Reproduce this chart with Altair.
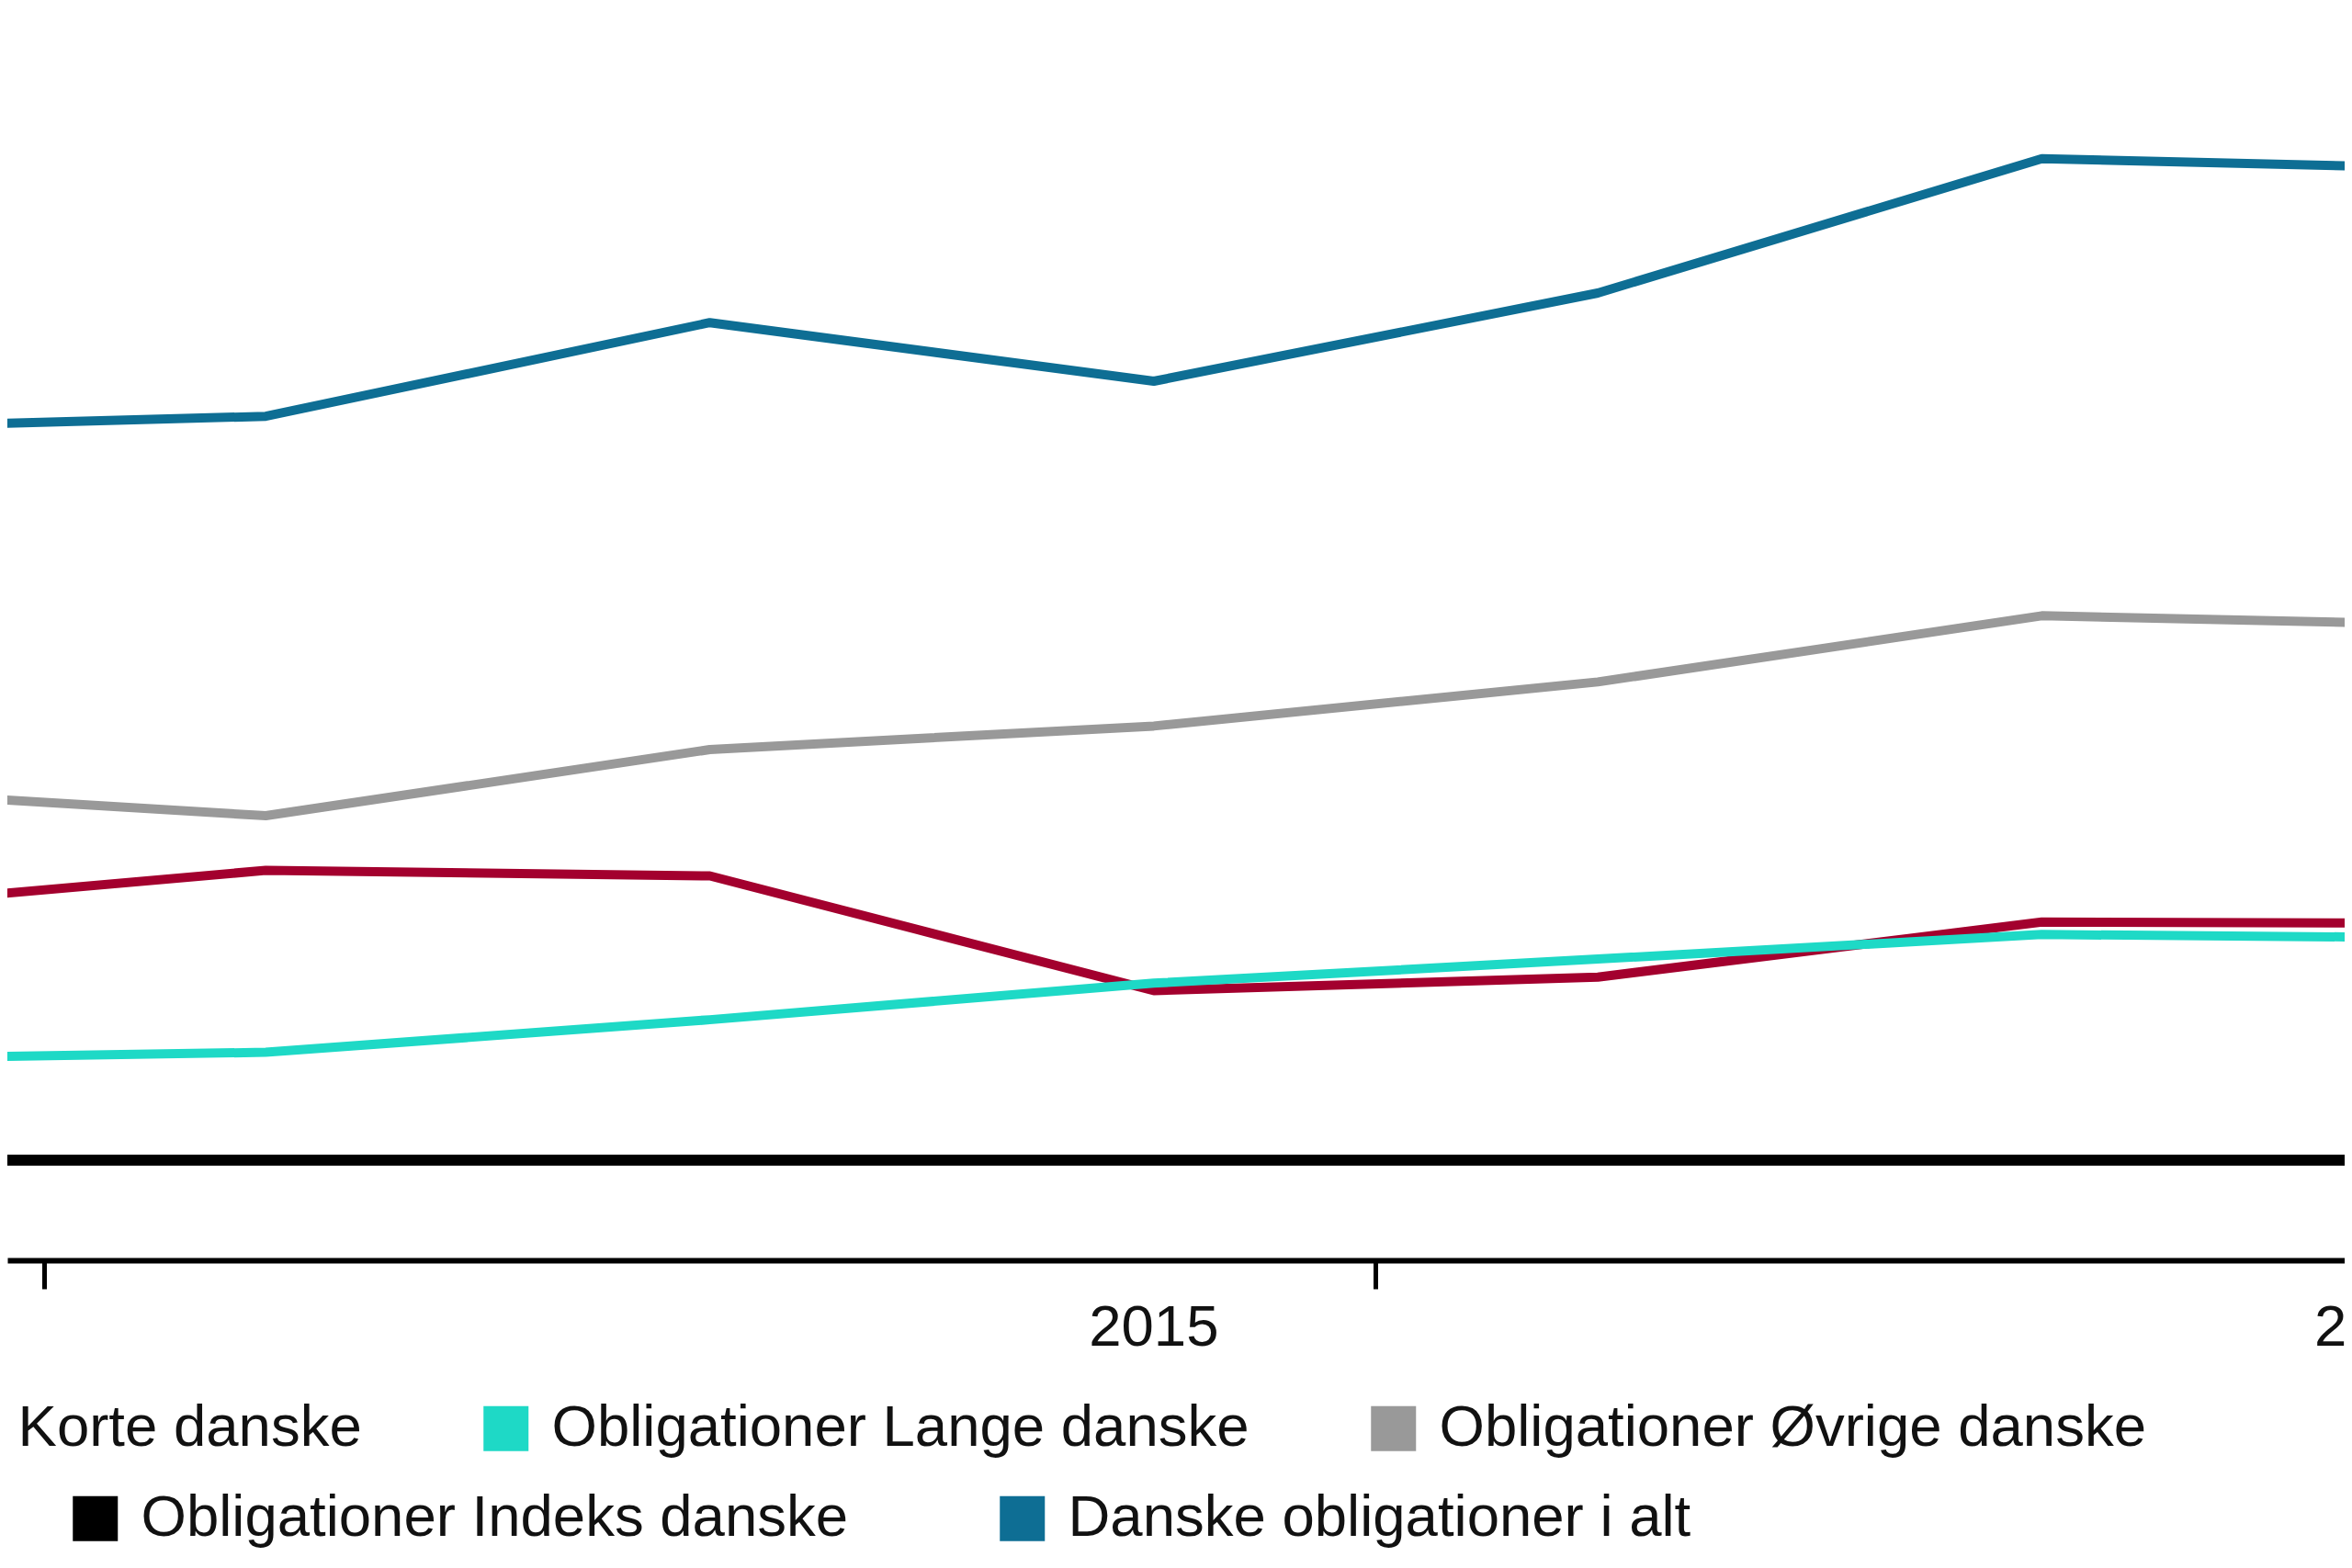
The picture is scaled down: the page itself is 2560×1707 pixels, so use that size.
import altair as alt
import pandas as pd

# x positions are period indices; 2015 sits on index 3
period = [0, 1, 2, 3, 4, 5, 6]
series = [
    "Obligationer Korte danske",
    "Obligationer Lange danske",
    "Obligationer Øvrige danske",
    "Obligationer Indeks danske",
    "Danske obligationer i alt",
]
korte = [500, 578, 567, 338, 365, 475, 472]
lange = [201, 215, 280, 353, 401, 450, 443]
ovrige = [741, 687, 819, 866, 954, 1086, 1067]
indeks = [0, 0, 0, 0, 0, 0, 0]
i_alt = [1460, 1484, 1671, 1554, 1730, 1998, 1977]
colors = ["#A3002E", "#1ED9C6", "#999999", "#000000", "#0E6E94"]
stroke_widths = [10, 10, 10, 12, 10]

tick_values = [0.5, 3.5, 6.5]
label_text = ["2015", "2016"]
label_period = [3, 5.76]

rows = []
for name, vals in zip(series, [korte, lange, ovrige, indeks, i_alt]):
    for p, v in zip(period, vals):
        rows.append({"serie": name, "periode": p, "value": v})
df = pd.DataFrame(rows)
lab_df = pd.DataFrame({"label": label_text, "periode": label_period})

FONT = "Liberation Sans"
TEXT_COLOR = "#111111"
xscale = alt.Scale(domain=[0.418, 5.682], nice=False, zero=False)
yscale = alt.Scale(domain=[-200, 2300], nice=False, zero=False)
xaxis = alt.Axis(values=tick_values, labels=False, title=None, grid=False,
                 domainColor="#000000", domainWidth=6, tickColor="#000000",
                 tickWidth=5, tickSize=31)
X = alt.X("periode:Q", scale=xscale, axis=xaxis)
Y = alt.Y("value:Q", scale=yscale, axis=None)

layers = []
for name, col, sw in zip(series, colors, stroke_widths):
    layers.append(
        alt.Chart(df)
        .transform_filter(alt.datum.serie == name)
        .mark_line(color=col, strokeWidth=sw, clip=True, strokeJoin="round")
        .encode(x=X, y=Y)
    )

legend_common = dict(
    orient="none", direction="horizontal", title=None,
    symbolType="square", symbolSize=2401, symbolStrokeWidth=0, symbolOpacity=1,
    labelFont=FONT, labelFontSize=63.5, labelColor=TEXT_COLOR, labelLimit=3000,
    labelOffset=18, padding=0,
)

leg_a = (
    alt.Chart(df)
    .transform_filter(alt.FieldOneOfPredicate(field="serie", oneOf=series[:3]))
    .mark_square(opacity=0, clip=True)
    .encode(
        x=X, y=Y,
        fill=alt.Fill("serie:N", scale=alt.Scale(domain=series[:3], range=colors[:3]),
                      legend=alt.Legend(legendX=-430, legendY=1515, columns=3,
                                        columnPadding=125, **legend_common)),
    )
)
leg_b = (
    alt.Chart(df)
    .transform_filter(alt.FieldOneOfPredicate(field="serie", oneOf=series[3:]))
    .mark_square(opacity=0, clip=True)
    .encode(
        x=X, y=Y,
        fill=alt.Fill("serie:N", scale=alt.Scale(domain=series[3:], range=colors[3:]),
                      legend=alt.Legend(legendX=64, legendY=1613, columns=2,
                                        columnPadding=157, **legend_common)),
    )
)

labels = (
    alt.Chart(lab_df)
    .mark_text(font=FONT, fontSize=63.5, color=TEXT_COLOR, baseline="alphabetic", align="center")
    .encode(x=X, y=alt.value(1457), text="label:N")
)

chart = (
    alt.layer(*layers, leg_a, leg_b, labels)
    .resolve_scale(fill="independent")
    .properties(width=2544, height=1364, autosize=alt.AutoSizeParams(type="none"),
                padding={"left": 0, "top": 0, "right": 0, "bottom": 320},
                background="#ffffff")
    .configure_view(stroke=None)
)

chart.save("out.html", embed_options={"renderer": "svg", "actions": False})
